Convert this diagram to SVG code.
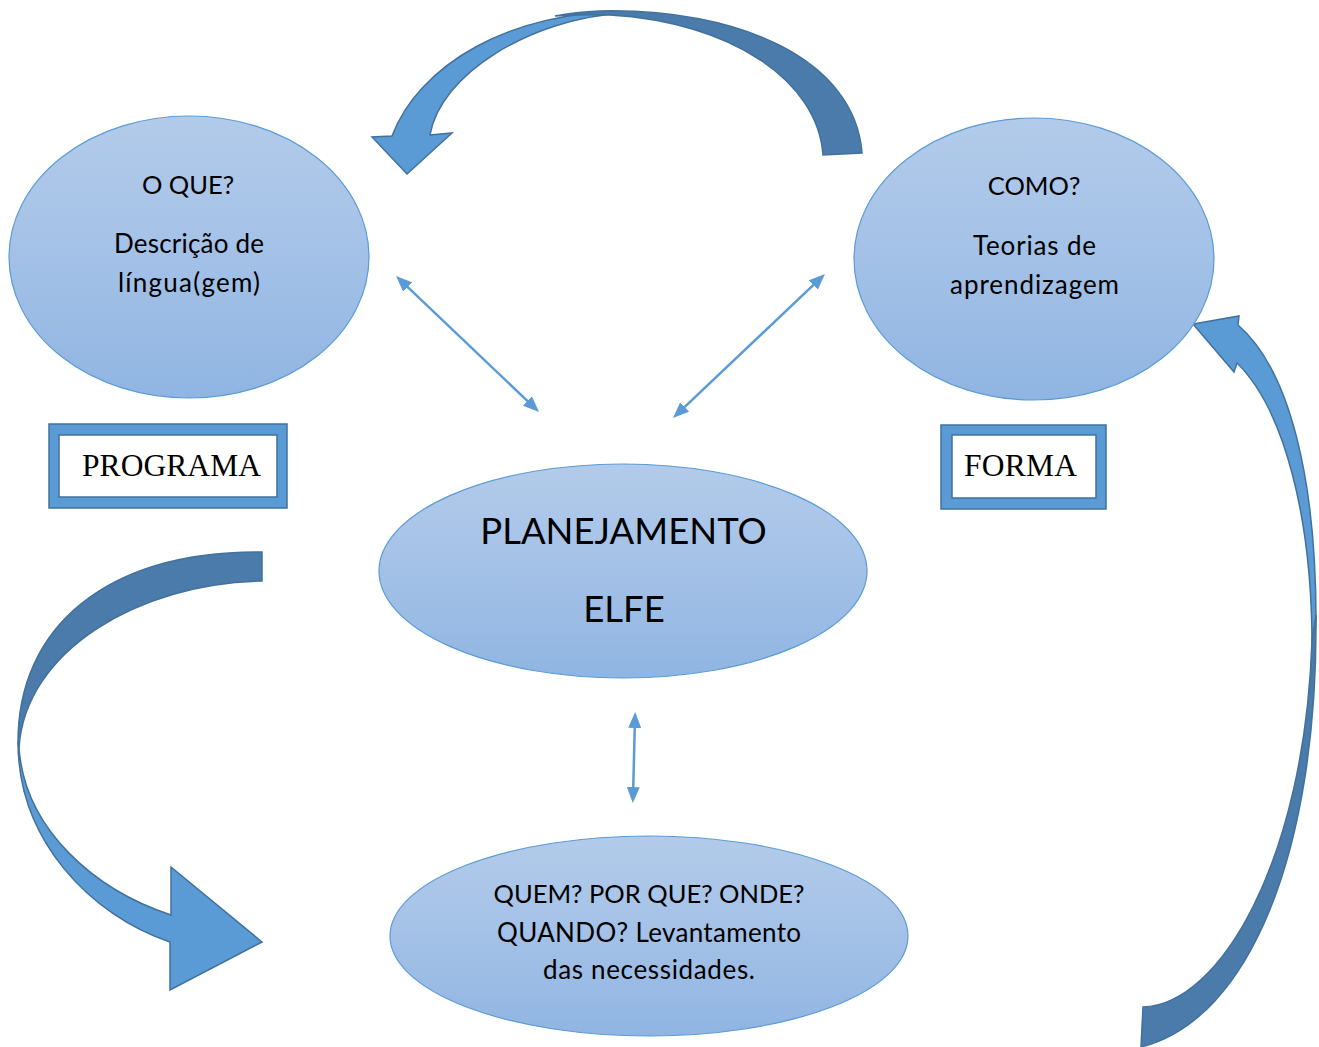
<svg xmlns="http://www.w3.org/2000/svg" width="1319" height="1047" viewBox="0 0 1319 1047">
  <defs>
    <linearGradient id="bubble" x1="0" y1="0" x2="0" y2="1">
      <stop offset="0" stop-color="#b3cbea"/>
      <stop offset="0.5" stop-color="#a3c1e7"/>
      <stop offset="1" stop-color="#90b5e2"/>
    </linearGradient>
    <marker id="tip" markerUnits="userSpaceOnUse" markerWidth="16" markerHeight="13" refX="6" refY="6.5" orient="auto-start-reverse" viewBox="0 0 16 13">
      <path d="M0,0 L16,6.5 L0,13 Z" fill="#5b9bd5"/>
    </marker>
    <style>
      .bubble { fill: url(#bubble); stroke: #5b9bd5; stroke-width: 1.2; }
      .label { font-family: Lato, "Open Sans", sans-serif; fill: #000; text-anchor: middle; }
      .caps { font-size: 25.5px; }
      .small { font-size: 26px; }
      .big { font-size: 36.5px; }
      .tag { font-family: "Liberation Serif", "Times New Roman", serif; font-size: 31.5px; fill: #000; }
      .frame { fill: #5b9bd5; stroke: #41719c; stroke-width: 1.5; }
      .inner { fill: #fff; stroke: #41719c; stroke-width: 1.5; }
      .link { stroke: #5b9bd5; stroke-width: 2.5; fill: none; marker-start: url(#tip); marker-end: url(#tip); }
      .front { fill: #5b9bd5; stroke: #41719c; stroke-width: 1.5; stroke-linejoin: miter; }
      .back { fill: #4a7bab; stroke: #41719c; stroke-width: 1.5; }
    </style>
  </defs>

  <!-- curved block arrows -->
  <g id="cycle-arrows">
    <!-- top: from COMO? over to O QUE? -->
    <path class="front" d="M392,136 A236,168 0 0 1 620,12 L625,13 C530,18 440,75 430,135 L452,133 L407,174 L372,137 Z"/>
    <path class="back" d="M862,153 C855,60 740,8 600,11 Q575,12 555,16 Q580,14 610,15 C730,22 818,80 823,155 Z"/>
    <!-- left: from PROGRAMA down to the bottom ellipse -->
    <path class="back" d="M262,552 C105,551 18,628 18,742 L19,748 C25,650 140,583 262,581 Z"/>
    <path class="front" d="M19,748 C25,830 95,890 171,915 L171,867 L262,942 L170,990 L170,942 C90,915 18,840 18,742 Z"/>
    <!-- right: from the bottom up to COMO? -->
    <path class="front" d="M1237,363 L1234,372 L1193,324 L1239,316 L1238,325 C1290,370 1316,480 1316,620 L1312,645 C1312,520 1285,410 1237,363 Z"/>
    <path class="back" d="M1143,1007 C1220,1005 1305,860 1312,640 L1316,615 C1318,850 1250,1020 1141,1047 Z"/>
  </g>

  <!-- double-headed connectors -->
  <g id="connectors">
    <line class="link" x1="403.3" y1="282.9" x2="531.8" y2="405.1"/>
    <line class="link" x1="817.7" y1="280.9" x2="680.3" y2="411.1"/>
    <line class="link" x1="634.9" y1="722" x2="633.1" y2="793"/>
  </g>

  <g id="node-oque">
    <ellipse class="bubble" cx="189" cy="257" rx="180" ry="141"/>
    <text class="label caps" x="188" y="194">O QUE?</text>
    <text class="label small" x="189" y="253" textLength="150" lengthAdjust="spacing">Descrição de</text>
    <text class="label small" x="189" y="292" textLength="142" lengthAdjust="spacing">língua(gem)</text>
  </g>

  <g id="node-como">
    <ellipse class="bubble" cx="1034" cy="259" rx="180" ry="141"/>
    <text class="label caps" x="1034" y="195">COMO?</text>
    <text class="label small" x="1034.5" y="255" textLength="123" lengthAdjust="spacing">Teorias de</text>
    <text class="label small" x="1034.5" y="294" textLength="169" lengthAdjust="spacing">aprendizagem</text>
  </g>

  <g id="node-planejamento">
    <ellipse class="bubble" cx="623" cy="571" rx="244" ry="107"/>
    <text class="label big" x="623.5" y="544">PLANEJAMENTO</text>
    <text class="label big" x="624" y="622">ELFE</text>
  </g>

  <g id="node-quem">
    <ellipse class="bubble" cx="649" cy="936" rx="259" ry="100"/>
    <text class="label caps" x="649" y="903">QUEM? POR QUE? ONDE?</text>
    <text class="label small" x="649" y="942" textLength="304" lengthAdjust="spacing">QUANDO? Levantamento</text>
    <text class="label small" x="649" y="979" textLength="212" lengthAdjust="spacing">das necessidades.</text>
  </g>

  <g id="node-programa">
    <rect class="frame" x="49" y="424" width="238" height="84"/>
    <rect class="inner" x="59" y="435" width="218" height="62"/>
    <text class="tag" x="82" y="476" textLength="179" lengthAdjust="spacing">PROGRAMA</text>
  </g>

  <g id="node-forma">
    <rect class="frame" x="941" y="425" width="165" height="84"/>
    <rect class="inner" x="952" y="435" width="144" height="63"/>
    <text class="tag" x="964" y="476" textLength="113" lengthAdjust="spacing">FORMA</text>
  </g>
</svg>
